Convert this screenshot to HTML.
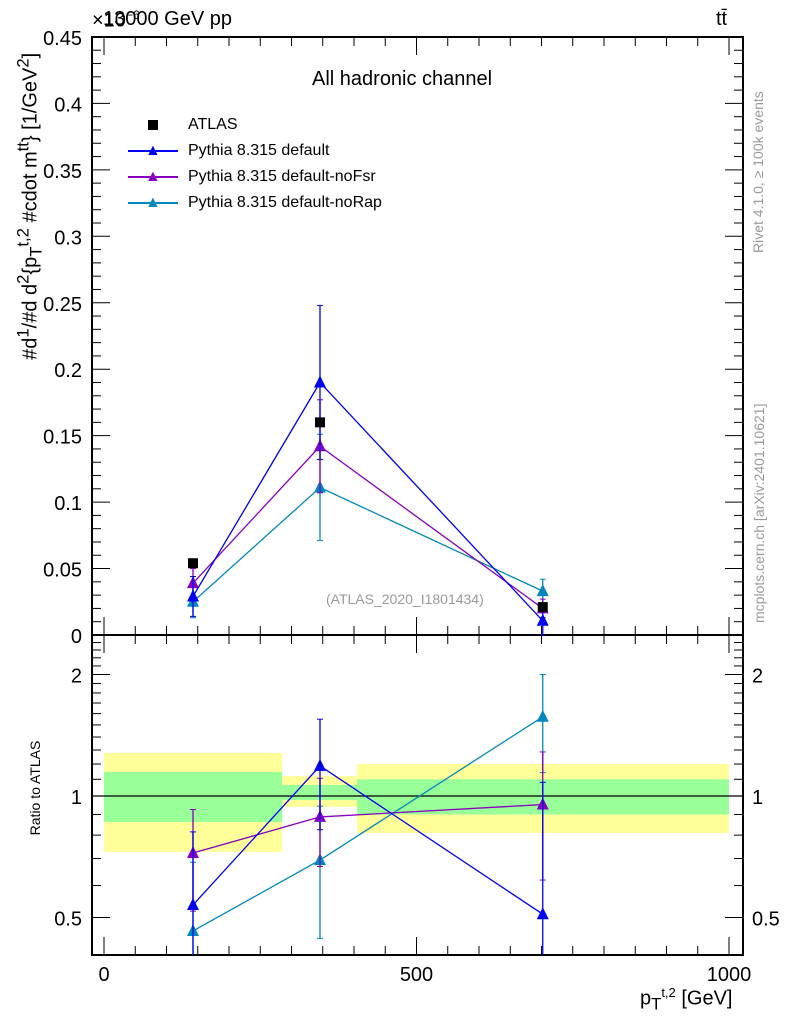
<!DOCTYPE html>
<html><head><meta charset="utf-8"><style>
body{margin:0;background:#fff;width:786px;height:1024px;overflow:hidden}
svg text{font-family:"Liberation Sans",sans-serif}
</style></head><body>
<svg id="c" width="786" height="1024" viewBox="0 0 786 1024"></svg>
<script>
const categories=[142.4,345.6,702];
const binEdges=[0,285,405,1000];
const atlas=[0.054,0.16,0.021];
const bandYellowLo=[0.727,0.94,0.81];
const bandYellowHi=[1.278,1.12,1.2];
const bandGreenLo=[0.862,0.977,0.90];
const bandGreenHi=[1.147,1.065,1.10];
const sDefault=[0.029,0.19,0.0107];
const sNoFsr=[0.039,0.142,0.020];
const sNoRap=[0.025,0.111,0.033];
const eDefault=[0.015,0.058,0.012];
const eNoFsr=[0.011,0.035,0.007];
const eNoRap=[0.012,0.040,0.009];
const mainTicks=[0,0.05,0.1,0.15,0.2,0.25,0.3,0.35,0.4,0.45];
const mainTickLabels=["0","0.05","0.1","0.15","0.2","0.25","0.3","0.35","0.4","0.45"];
const xTicks=[0,500,1000];
const ratioTicks=[0.5,1,2];

const NS="http://www.w3.org/2000/svg";
const svg=document.getElementById('c');
const L=92,R=743,T=37,MB=635,RB=955;
const X=v=>104+0.625*v;
const Y=v=>635-v*1329;
const RY=v=>796-Math.log2(v)*121.5;
function el(t,a,p){const e=document.createElementNS(NS,t);for(const k in a)e.setAttribute(k,a[k]);(p||svg).appendChild(e);return e;}
function txt(x,y,s,a){const e=el('text',Object.assign({x:x,y:y},a));e.textContent=s;return e;}

const bands=el('g',{});


for(let i=0;i<3;i++){
 const r=el('rect',{x:X(binEdges[i]),y:RY(bandYellowHi[i]),width:X(binEdges[i+1])-X(binEdges[i]),height:RY(bandYellowLo[i])-RY(bandYellowHi[i]),fill:'#ffff99'},bands);
 
 
 const g=el('rect',{x:X(binEdges[i]),y:RY(bandGreenHi[i]),width:X(binEdges[i+1])-X(binEdges[i]),height:RY(bandGreenLo[i])-RY(bandGreenHi[i]),fill:'#99ff99'},bands);
 
 
}
el('line',{x1:L,x2:R,y1:RY(1),y2:RY(1),stroke:'#000','stroke-width':1.2});

const f1=el('rect',{x:L,y:T,width:R-L,height:MB-T,fill:'none',stroke:'#000','stroke-width':2});

const f2=el('rect',{x:L,y:MB,width:R-L,height:RB-MB,fill:'none',stroke:'#000','stroke-width':2});


for(let v=0;v<=0.45001;v+=0.01){const maj=Math.abs(v/0.05-Math.round(v/0.05))<1e-6;const y=Y(v);const w=maj?18:9;
 el('line',{x1:L,x2:L+w,y1:y,y2:y,stroke:'#000'});el('line',{x1:R,x2:R-w,y1:y,y2:y,stroke:'#000'});}
mainTicks.forEach((v,i)=>{const t=txt(82,Y(v)+8,mainTickLabels[i],{'font-size':20,'text-anchor':'end'});
 });
for(let v=-50;v<=1050;v+=50){const x=X(v);if(x<L||x>R)continue;const maj=v%500===0;const w=maj?18:9;
 el('line',{x1:x,x2:x,y1:MB,y2:MB-w,stroke:'#000'});el('line',{x1:x,x2:x,y1:T,y2:T+w,stroke:'#000'});
 el('line',{x1:x,x2:x,y1:RB,y2:RB-w,stroke:'#000'});el('line',{x1:x,x2:x,y1:MB,y2:MB+w,stroke:'#000'});}
xTicks.forEach(v=>{const t=txt(X(v),981,String(v),{'font-size':20,'text-anchor':'middle'});
 });
for(let v=0.4;v<=2.5;v+=0.1){const y=RY(v);if(y<MB||y>RB)continue;const maj=ratioTicks.some(r=>Math.abs(r-v)<1e-6);const w=maj?18:9;
 el('line',{x1:L,x2:L+w,y1:y,y2:y,stroke:'#000'});el('line',{x1:R,x2:R-w,y1:y,y2:y,stroke:'#000'});}
ratioTicks.forEach(v=>{const a=txt(82,RY(v)+8,String(v),{'font-size':20,'text-anchor':'end'});
 
 const b=txt(752,RY(v)+8,String(v),{'font-size':20});
 });

function tri(x,y,c,p){return el('polygon',{points:`${x-6},${y+5} ${x+6},${y+5} ${x},${y-7}`,fill:c},p);}
function series(name,vals,errs,c){
 const g=el('g',{});
 
 
 el('polyline',{points:categories.map((x,i)=>X(x)+','+Y(vals[i])).join(' '),fill:'none',stroke:c,'stroke-width':1.3},g);
 el('polyline',{points:categories.map((x,i)=>X(x)+','+RY(vals[i]/atlas[i])).join(' '),fill:'none',stroke:c,'stroke-width':1.3},g);
 categories.forEach((x,i)=>{
  const px=X(x);
  const y1=Y(vals[i]+errs[i]),y2=Math.min(MB,Y(Math.max(0,vals[i]-errs[i])));
  el('line',{x1:px,x2:px,y1:y1,y2:y2,stroke:c,'stroke-width':1.3},g);
  el('line',{x1:px-3,x2:px+3,y1:y1,y2:y1,stroke:c},g);el('line',{x1:px-3,x2:px+3,y1:y2,y2:y2,stroke:c},g);
  const m=tri(px,Y(vals[i]),c,g);
  
  
  const r=vals[i]/atlas[i],re=errs[i]/atlas[i];
  const ry1=Math.max(MB,RY(r+re)),ry2=(r-re)>0.05?Math.min(RB,RY(r-re)):RB;
  el('line',{x1:px,x2:px,y1:ry1,y2:ry2,stroke:c,'stroke-width':1.3},g);
  if(ry1>MB)el('line',{x1:px-3,x2:px+3,y1:ry1,y2:ry1,stroke:c},g);
  if(ry2<RB)el('line',{x1:px-3,x2:px+3,y1:ry2,y2:ry2,stroke:c},g);
  const rm=tri(px,RY(r),c,g);
  
  
 });
}
series('pythia-default-norap',sNoRap,eNoRap,'#0088bb');
series('pythia-default-nofsr',sNoFsr,eNoFsr,'#8800bb');
series('pythia-default',sDefault,eDefault,'#0000ee');
categories.forEach((x,i)=>{const s=el('rect',{x:X(x)-5,y:Y(atlas[i])-5,width:10,height:10,fill:'#000'});
 });
</script>
<div style="position:absolute;left:0;top:0;width:786px;height:1024px;pointer-events:none;font-family:'Liberation Sans',sans-serif">
 <div style="position:absolute;left:103px;top:8px;font-size:20px">13000 GeV pp</div>
 <div style="position:absolute;left:92px;top:8px;font-size:20px">×10<sup style="font-size:12px">−6</sup></div>
 <div style="position:absolute;left:716px;top:8px;font-size:20px">tt̄</div>
 <div style="position:absolute;left:312px;top:68px;font-size:20px">All hadronic channel</div>
 <div style="position:absolute;left:128px;top:112px;font-size:16px;line-height:26px">
  <div style="position:relative;padding-left:60px"><span style="position:absolute;left:20px;top:8px;width:10px;height:10px;background:#000"></span>ATLAS</div>
  <div style="position:relative;padding-left:60px"><span style="position:absolute;left:0;top:12px;width:50px;height:1.5px;background:#0000ee"></span><span style="position:absolute;left:17px;top:0px;color:#0000ee;font-size:16px">▲</span>Pythia 8.315 default</div>
  <div style="position:relative;padding-left:60px"><span style="position:absolute;left:0;top:12px;width:50px;height:1.5px;background:#8800bb"></span><span style="position:absolute;left:17px;top:0px;color:#8800bb;font-size:16px">▲</span>Pythia 8.315 default-noFsr</div>
  <div style="position:relative;padding-left:60px"><span style="position:absolute;left:0;top:12px;width:50px;height:1.5px;background:#0088bb"></span><span style="position:absolute;left:17px;top:0px;color:#0088bb;font-size:16px">▲</span>Pythia 8.315 default-noRap</div>
 </div>
 <div style="position:absolute;left:326px;top:591px;font-size:14px;color:#999">(ATLAS_2020_I1801434)</div>
 <div style="position:absolute;left:-130px;top:190px;width:320px;transform:rotate(-90deg);font-size:20px;text-align:center;white-space:nowrap">#d<sup>1</sup>/#d d<sup>2</sup>{p<sub>T</sub><sup>t,2</sup> #cdot m<sup>tt</sup>} [1/GeV<sup>2</sup>]</div>
 <div style="position:absolute;left:-20px;top:780px;width:110px;transform:rotate(-90deg);font-size:14px;text-align:center;white-space:nowrap">Ratio to ATLAS</div>
 <div style="position:absolute;left:640px;top:985px;font-size:20px">p<sub>T</sub><sup style="font-size:13px">t,2</sup> [GeV]</div>
 <div style="position:absolute;left:648px;top:135px;width:220px;transform:rotate(-90deg);font-size:14px;color:#999;white-space:nowrap">Rivet 4.1.0, ≥ 100k events</div>
 <div style="position:absolute;left:614px;top:470px;width:290px;transform:rotate(-90deg);font-size:14px;color:#999;white-space:nowrap">mcplots.cern.ch [arXiv:2401.10621]</div>
</div>
</body></html>
